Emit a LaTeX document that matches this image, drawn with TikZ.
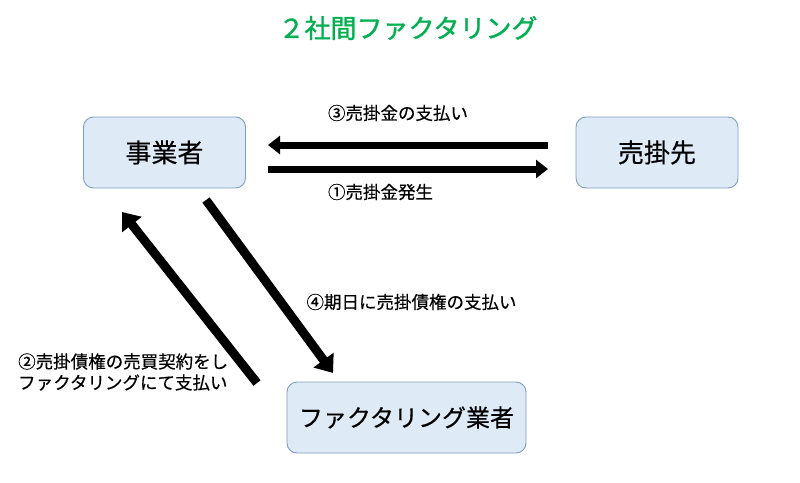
\documentclass[tikz,border=0pt]{standalone}
\usepackage{fontspec}
\setmainfont{Noto Sans CJK JP}[FakeBold=0.4]
\newfontfamily\titlefont{Noto Sans CJK JP}[FakeBold=1.2]
\usetikzlibrary{arrows.meta}
\definecolor{titlegreen}{HTML}{00B050}
\definecolor{boxfill}{HTML}{DEEBF7}
\definecolor{boxline}{HTML}{7F9DC4}
\tikzset{
  entity/.style={draw=boxline, fill=boxfill, line width=0.9pt, rounded corners=10pt, inner sep=0pt, font=\fontsize{26}{30}\selectfont},
  lbl/.style={inner sep=0pt, font=\fontsize{17.5}{21}\selectfont},
  harrow/.style={line width=7pt, -{Triangle[length=12pt,width=18pt]}},
  darrow/.style={line width=9pt, -{Triangle[length=16pt,width=24pt]}}
}
\begin{document}
\begin{tikzpicture}[x=1pt,y=-1pt]
\useasboundingbox (0,0) rectangle (800,482);
\node[font=\titlefont\fontsize{26}{30}\selectfont, text=titlegreen, inner sep=0pt] (title) at (408,28) {２社間ファクタリング};
\node[entity, minimum width=162pt, minimum height=71pt] (jigyo) at (164.5,152.5) {事業者};
\node[entity, minimum width=162pt, minimum height=71pt] (urikake) at (657,152.5) {売掛先};
\node[entity, minimum width=239pt, minimum height=71pt, font=\fontsize{24}{28}\selectfont] (factor) at (406.5,417.5) {ファクタリング業者};
% arrow end points
\coordinate (a3s) at (548,145);
\coordinate (a3e) at (268,145);
\coordinate (a1s) at (268,169);
\coordinate (a1e) at (548,169);
\coordinate (a2s) at (257,383);
\coordinate (a2e) at (122,212);
\coordinate (a4s) at (206,200);
\coordinate (a4e) at (333,373);
\draw[harrow] (a3s) -- (a3e);
\draw[harrow] (a1s) -- (a1e);
\draw[darrow] (a2s) -- (a2e);
\draw[darrow] (a4s) -- (a4e);
\node[lbl] (l3) at (398,113) {③売掛金の支払い};
\node[lbl] (l1) at (380.5,192) {①売掛金発生};
\node[lbl] (l4) at (411.5,302) {④期日に売掛債権の支払い};
\node[lbl, anchor=west, align=left] (l2) at (18,372) {②売掛債権の売買契約をし\\ファクタリングにて支払い};
\end{tikzpicture}
\end{document}
